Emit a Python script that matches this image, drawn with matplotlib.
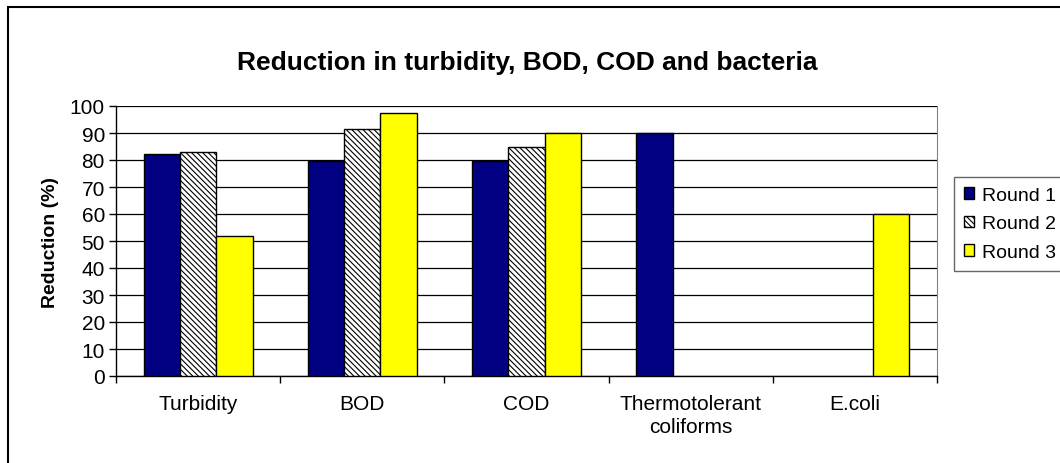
import numpy as np
import matplotlib
matplotlib.use("Agg")
import matplotlib.pyplot as plt
from matplotlib.patches import Rectangle

plt.rcParams['font.family'] = ['Liberation Sans', 'DejaVu Sans']
plt.rcParams['hatch.linewidth'] = 0.8

categories = ["Turbidity", "BOD", "COD", "Thermotolerant\ncoliforms", "E.coli"]
series = ["Round 1", "Round 2", "Round 3"]
round1 = [82.3, 79.6, 79.5, 90.0, np.nan]
round2 = [83.1, 91.6, 85.0, np.nan, np.nan]
round3 = [51.7, 97.4, 90.0, np.nan, 60.0]

fig = plt.figure(figsize=(10.6, 4.64), dpi=100)
ax = fig.add_axes([116/1060, 1-377/464, (937-116)/1060, (377-107)/464])

x = np.arange(len(categories)); w = 0.221
styles = [dict(color="#000080"), dict(color="white", hatch="\\\\\\\\\\\\"), dict(color="#FFFF00")]
for i, (vals, st) in enumerate(zip([round1, round2, round3], styles)):
    ax.bar(x+(i-1)*w, vals, w, edgecolor="black", linewidth=1.0, label=series[i], zorder=3, **st)

ax.set_xlim(-0.5, 4.5); ax.set_ylim(0, 100)
ax.set_yticks(np.arange(0, 101, 10))
ax.yaxis.grid(True, color="black", lw=0.9, zorder=0)
ax.set_xticks(np.arange(-0.5, 4.6, 1.0)); ax.set_xticklabels([])
ax.set_xticks(x, minor=True); ax.set_xticklabels(categories, minor=True, fontsize=15, linespacing=1.25)
ax.tick_params(axis="x", which="minor", length=0, pad=13)
ax.tick_params(axis="x", which="major", length=5, direction="out", width=1)
ax.tick_params(axis="y", length=5, direction="out", width=1, labelsize=15, pad=3)
ax.spines["top"].set_visible(False)
ax.spines["right"].set_color("#808080")
for s in ["left", "bottom"]: ax.spines[s].set_linewidth(1.0)
ax.set_ylabel("Reduction (%)", fontsize=14, fontweight="bold", labelpad=8)

fig.text(527/1060, 1-63/464, "Reduction in turbidity, BOD, COD and bacteria", ha="center", va="center",
         fontsize=19, fontweight="bold")

leg = fig.legend(loc="upper left", bbox_to_anchor=(954/1060, 1-178/464), fontsize=14,
                 handlelength=0.55, handleheight=0.55, handletextpad=0.4, borderpad=0.5,
                 labelspacing=0.6, fancybox=False, borderaxespad=0)
leg.get_frame().set_edgecolor("#404040"); leg.get_frame().set_linewidth(1.0)

fig.patches.append(Rectangle((8/1060, -0.1), 1.2, 1-8/464+0.1, transform=fig.transFigure,
                             fill=False, edgecolor="black", lw=1.5))
fig.savefig("out.png", dpi=100)
